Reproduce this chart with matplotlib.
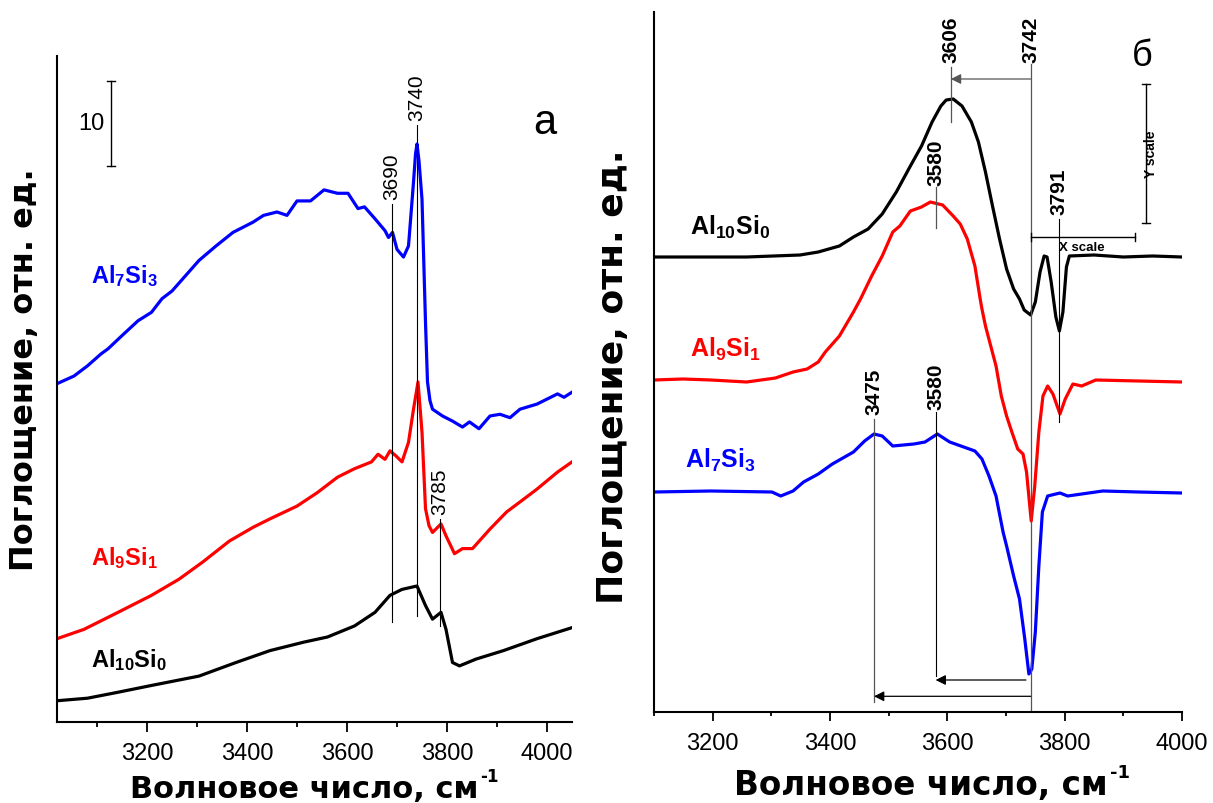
import matplotlib
matplotlib.use("Agg")
import matplotlib.pyplot as plt

plt.rcParams['font.family'] = ['Liberation Sans', 'DejaVu Sans']
plt.rcParams['mathtext.fontset'] = 'custom'
plt.rcParams['mathtext.rm'] = 'Liberation Sans'
plt.rcParams['mathtext.bf'] = 'Liberation Sans:bold'
plt.rcParams['mathtext.it'] = 'Liberation Sans:italic'

# ---------------- panel (а): absorbance spectra ----------------
wn_a7 = [3020, 3054, 3081, 3108, 3122, 3149, 3182, 3209, 3230, 3250, 3277, 3304, 3338,
         3372, 3412, 3433, 3460, 3480, 3500, 3527, 3554, 3581, 3602, 3622, 3635, 3656,
         3676, 3683, 3691, 3700, 3713, 3723, 3733, 3737, 3740, 3744, 3750, 3757, 3761,
         3766, 3771, 3791, 3811, 3831, 3845, 3864, 3886, 3906, 3926, 3946, 3980, 4021,
         4034, 4050]
abs_a7 = [39.8, 40.7, 41.9, 43.3, 43.9, 45.4, 47.2, 48.2, 49.8, 50.7, 52.5, 54.3, 56.0,
          57.6, 58.8, 59.6, 60.0, 59.6, 61.3, 61.3, 62.6, 62.2, 62.2, 60.4, 60.6, 59.2,
          57.8, 57.0, 57.6, 55.6, 54.7, 56.0, 63.5, 66.8, 68.0, 66.0, 61.5, 47.0, 40.0,
          37.8, 36.8, 36.0, 35.4, 34.7, 35.3, 34.5, 36.0, 36.2, 35.8, 36.8, 37.4, 38.6,
          38.2, 38.8]

wn_a9 = [3020, 3074, 3142, 3209, 3264, 3311, 3365, 3412, 3446, 3500, 3541, 3581, 3615,
         3649, 3662, 3676, 3686, 3698, 3710, 3723, 3733, 3742, 3750, 3757, 3764, 3771,
         3788, 3798, 3815, 3831, 3851, 3886, 3919, 3953, 3980, 4021, 4050]
abs_a9 = [9.8, 10.9, 12.9, 14.9, 16.8, 18.8, 21.3, 22.9, 23.9, 25.4, 27.0, 28.8, 29.8,
          30.6, 31.5, 30.9, 31.9, 31.3, 30.6, 32.9, 36.8, 40.0, 34.1, 25.1, 23.1, 22.3,
          23.3, 21.9, 19.8, 20.4, 20.4, 22.7, 24.7, 26.2, 27.4, 29.4, 30.6]

wn_a10 = [3020, 3081, 3142, 3209, 3304, 3378, 3446, 3514, 3561, 3615, 3656, 3686, 3710,
          3740, 3757, 3771, 3788, 3798, 3811, 3825, 3858, 3913, 3980, 4050]
abs_a10 = [2.5, 2.8, 3.5, 4.3, 5.4, 7.0, 8.4, 9.4, 10.0, 11.3, 12.9, 14.9, 15.6,
           16.0, 13.7, 12.1, 12.9, 10.9, 7.0, 6.6, 7.4, 8.4, 9.8, 11.1]

# marked bands: (wavenumber, lower end, upper end of marker line)
bands_a = [(3690, 11.8, 60.9), (3740, 12.5, 70.2), (3785, 11.3, 23.9)]

# ---------------- panel (б): difference spectra ----------------
wn_b10 = [3100, 3258, 3349, 3380, 3416, 3440, 3465, 3489, 3513, 3537, 3556, 3574, 3589,
          3598, 3610, 3625, 3641, 3653, 3665, 3677, 3689, 3701, 3713, 3723, 3731, 3742,
          3750, 3758, 3765, 3770, 3777, 3785, 3791, 3797, 3803, 3808, 3850, 3900, 3950,
          4000]
abs_b10 = [45.5, 45.5, 45.7, 46.0, 46.6, 47.5, 48.3, 49.8, 52.0, 54.6, 56.6, 59.0, 60.6,
           61.2, 61.3, 60.6, 59.0, 57.0, 54.0, 50.6, 47.3, 44.3, 42.3, 41.3, 40.2, 39.7,
           41.0, 44.0, 45.6, 45.5, 43.0, 39.5, 38.1, 40.0, 44.5, 45.6, 45.7, 45.5, 45.6,
           45.5]

wn_b9 = [3100, 3149, 3197, 3258, 3307, 3337, 3361, 3380, 3392, 3416, 3440, 3452, 3471,
         3489, 3507, 3519, 3537, 3556, 3571, 3592, 3610, 3622, 3634, 3647, 3656, 3659,
         3665, 3674, 3683, 3692, 3701, 3710, 3720, 3729, 3735, 3743, 3749, 3756, 3763,
         3771, 3780, 3792, 3801, 3814, 3829, 3853, 3926, 4000]
abs_b9 = [33.2, 33.3, 33.2, 33.0, 33.4, 34.0, 34.3, 35.0, 36.0, 37.6, 40.0, 41.3, 43.6,
          45.6, 48.0, 48.6, 50.1, 50.5, 51.0, 50.7, 49.6, 48.8, 47.3, 44.6, 41.3, 40.3,
          38.6, 36.6, 34.6, 31.6, 29.6, 28.0, 26.3, 25.8, 24.0, 19.1, 22.6, 28.0, 31.6,
          32.6, 31.8, 29.8, 31.3, 32.8, 32.6, 33.2, 33.1, 33.0]

wn_b7 = [3100, 3197, 3301, 3316, 3337, 3355, 3380, 3404, 3440, 3459, 3475, 3489, 3507,
         3543, 3562, 3583, 3604, 3647, 3659, 3671, 3683, 3695, 3701, 3713, 3723, 3732,
         3739, 3744, 3750, 3756, 3762, 3771, 3792, 3805, 3865, 3926, 4000]
abs_b7 = [22.0, 22.1, 22.0, 21.6, 22.1, 23.0, 23.8, 24.8, 26.0, 27.1, 27.8, 27.6, 26.6,
          26.8, 27.0, 27.8, 27.0, 26.1, 25.3, 23.6, 21.6, 18.0, 16.6, 13.6, 11.3, 7.3,
          3.8, 4.3, 8.0, 14.6, 20.0, 21.6, 21.9, 21.6, 22.1, 22.0, 21.9]

xticks_major = [3200, 3400, 3600, 3800, 4000]
xticks_minor = [3100, 3300, 3500, 3700, 3900]

sample_labels = [r'$\mathbf{Al_{10}Si_{0}}$', r'$\mathbf{Al_{9}Si_{1}}$', r'$\mathbf{Al_{7}Si_{3}}$']
colors = ['black', 'red', 'blue']

xlabel_main = 'Волновое число, см'
xlabel_sup = '-1'
ylabel_txt = 'Поглощение, отн. ед.'

W, H = 1213, 804
fig = plt.figure(figsize=(W / 100, H / 100), dpi=100)
renderer = fig.canvas.get_renderer()


def px_axes(x0, y0, x1, y1):
    return fig.add_axes([x0 / W, 1 - y1 / H, (x1 - x0) / W, (y1 - y0) / H])


def style_axes(ax, major_len, minor_len, pad):
    for s in ('top', 'right'):
        ax.spines[s].set_visible(False)
    for s in ('left', 'bottom'):
        ax.spines[s].set_linewidth(1.5)
    ax.set_yticks([])
    ax.set_xticks(xticks_major)
    ax.set_xticks(xticks_minor, minor=True)
    ax.tick_params(axis='x', which='major', direction='out', length=major_len, width=1.3,
                   labelsize=17, pad=pad)
    ax.tick_params(axis='x', which='minor', direction='out', length=minor_len, width=1.3)


def wavenumber_title(xc_px, base_px, size):
    """Centred bold axis title with a small raised '-1'."""
    kw = dict(fontweight='bold', family=['DejaVu Sans'], va='baseline', ha='left')
    t1 = fig.text(0, 1 - base_px / H, xlabel_main, fontsize=size, **kw)
    t2 = fig.text(0, 1 - (base_px - 0.52 * size * 100 / 72) / H, xlabel_sup,
                  fontsize=size * 0.55, **kw)
    w1 = t1.get_window_extent(renderer).width
    w2 = t2.get_window_extent(renderer).width
    x0 = xc_px - (w1 + w2 + 2) / 2
    t1.set_x(x0 / W)
    t2.set_x((x0 + w1 + 2) / W)


# ---- panel а ----
axa = px_axes(57, 57, 572, 723)
axa.set_xlim(3020, 4050)
axa.set_ylim(0, 78.35)
style_axes(axa, 7.2, 3.6, 7)

for wn, ab, c in [(wn_a10, abs_a10, 'black'), (wn_a9, abs_a9, 'red'), (wn_a7, abs_a7, 'blue')]:
    axa.plot(wn, ab, color=c, lw=2.3, solid_joinstyle='round')

for wv, y0, y1 in bands_a:
    axa.plot([wv, wv], [y0, y1], color='black', lw=0.8)
    axa.text(wv, y1 + 0.6, str(wv), rotation=90, ha='center', va='bottom', fontsize=15)

# scale bar
sb_x, sb_lo, sb_hi = 3127, 65.4, 75.4
axa.plot([sb_x, sb_x], [sb_lo, sb_hi], color='black', lw=1.0)
axa.plot([sb_x - 8, sb_x + 8], [sb_lo, sb_lo], color='black', lw=1.0)
axa.plot([sb_x - 8, sb_x + 8], [sb_hi, sb_hi], color='black', lw=1.0)
axa.text(3089, 70.5, '10', ha='center', va='center', fontsize=17)
axa.text(3995, 70.6, 'а', ha='center', va='center', fontsize=30)

for lab, c, (lx, ly) in zip(sample_labels, colors, [(3088, 6.6), (3088, 18.6), (3088, 51.8)]):
    axa.text(lx, ly, lab, color=c, fontsize=17, ha='left', va='baseline')

# ---- panel б ----
axb = px_axes(654, 13, 1182, 713)
axb.set_xlim(3100, 4000)
axb.set_ylim(0, 70)
style_axes(axb, 6.5, 3.0, 8)

for wn, ab, c in [(wn_b10, abs_b10, 'black'), (wn_b9, abs_b9, 'red'), (wn_b7, abs_b7, 'blue')]:
    axb.plot(wn, ab, color=c, lw=2.3, solid_joinstyle='round')

grey = '#555555'
lab_kw = dict(rotation=90, ha='center', va='bottom', fontsize=15, fontweight='bold')

# shift of the 3742 band in Al10Si0
axb.plot([3742, 3742], [0, 64.8], color=grey, lw=0.9)
axb.plot([3606, 3606], [59.0, 64.5], color=grey, lw=0.9)
axb.annotate('', xy=(3606, 63.3), xytext=(3742, 63.3),
             arrowprops=dict(arrowstyle='-|>', color=grey, lw=0.9, mutation_scale=15,
                             shrinkA=0, shrinkB=0))
axb.text(3606, 65.0, '3606', **lab_kw)
axb.text(3742, 65.0, '3742', **lab_kw)

# Al9Si1 maximum and 3791 band
axb.plot([3580, 3580], [48.4, 52.5], color=grey, lw=0.9)
axb.text(3580, 52.7, '3580', **lab_kw)
axb.plot([3791, 3791], [29.0, 49.3], color='black', lw=0.8)
axb.text(3791, 49.8, '3791', **lab_kw)

# Al7Si3 maxima with shifts
axb.plot([3475, 3475], [0.97, 29.3], color=grey, lw=0.9)
axb.text(3475, 29.8, '3475', **lab_kw)
axb.plot([3580, 3580], [3.6, 30.0], color='black', lw=0.8)
axb.text(3580, 30.3, '3580', **lab_kw)
axb.annotate('', xy=(3580, 3.2), xytext=(3734, 3.2),
             arrowprops=dict(arrowstyle='-|>', color='black', lw=0.9, mutation_scale=15,
                             shrinkA=0, shrinkB=0))
axb.annotate('', xy=(3475, 1.57), xytext=(3742, 1.57),
             arrowprops=dict(arrowstyle='-|>', color='black', lw=0.9, mutation_scale=15,
                             shrinkA=0, shrinkB=0))

# scale bars
axb.plot([3742, 3920], [47.5, 47.5], color='black', lw=1.0)
for xe in (3742, 3920):
    axb.plot([xe, xe], [47.1, 47.9], color='black', lw=1.0)
axb.text(3830, 47.1, 'X scale', ha='center', va='top', fontsize=9.5, fontweight='bold')
axb.plot([3938, 3938], [48.9, 62.8], color='black', lw=1.0)
for ye in (48.9, 62.8):
    axb.plot([3931, 3945], [ye, ye], color='black', lw=1.0)
axb.text(3946.5, 55.9, 'Y scale', rotation=90, ha='center', va='center', fontsize=10,
         fontweight='bold')
axb.text(3933, 65.7, 'б', ha='center', va='center', fontsize=26)

for lab, c, (lx, ly) in zip(sample_labels, colors, [(3161, 47.8), (3161, 35.6), (3152, 24.5)]):
    axb.text(lx, ly, lab, color=c, fontsize=18, ha='left', va='baseline')

# axis titles
wavenumber_title(314.5, 798, 22)
wavenumber_title(932, 795, 23.5)
fig.text(25 / W, 1 - 370 / H, ylabel_txt, rotation=90, ha='center', va='center',
         fontsize=23, fontweight='bold', family=['DejaVu Sans'])
fig.text(613 / W, 1 - 377 / H, ylabel_txt, rotation=90, ha='center', va='center',
         fontsize=26, fontweight='bold', family=['DejaVu Sans'])

fig.savefig('out.png', dpi=100)
